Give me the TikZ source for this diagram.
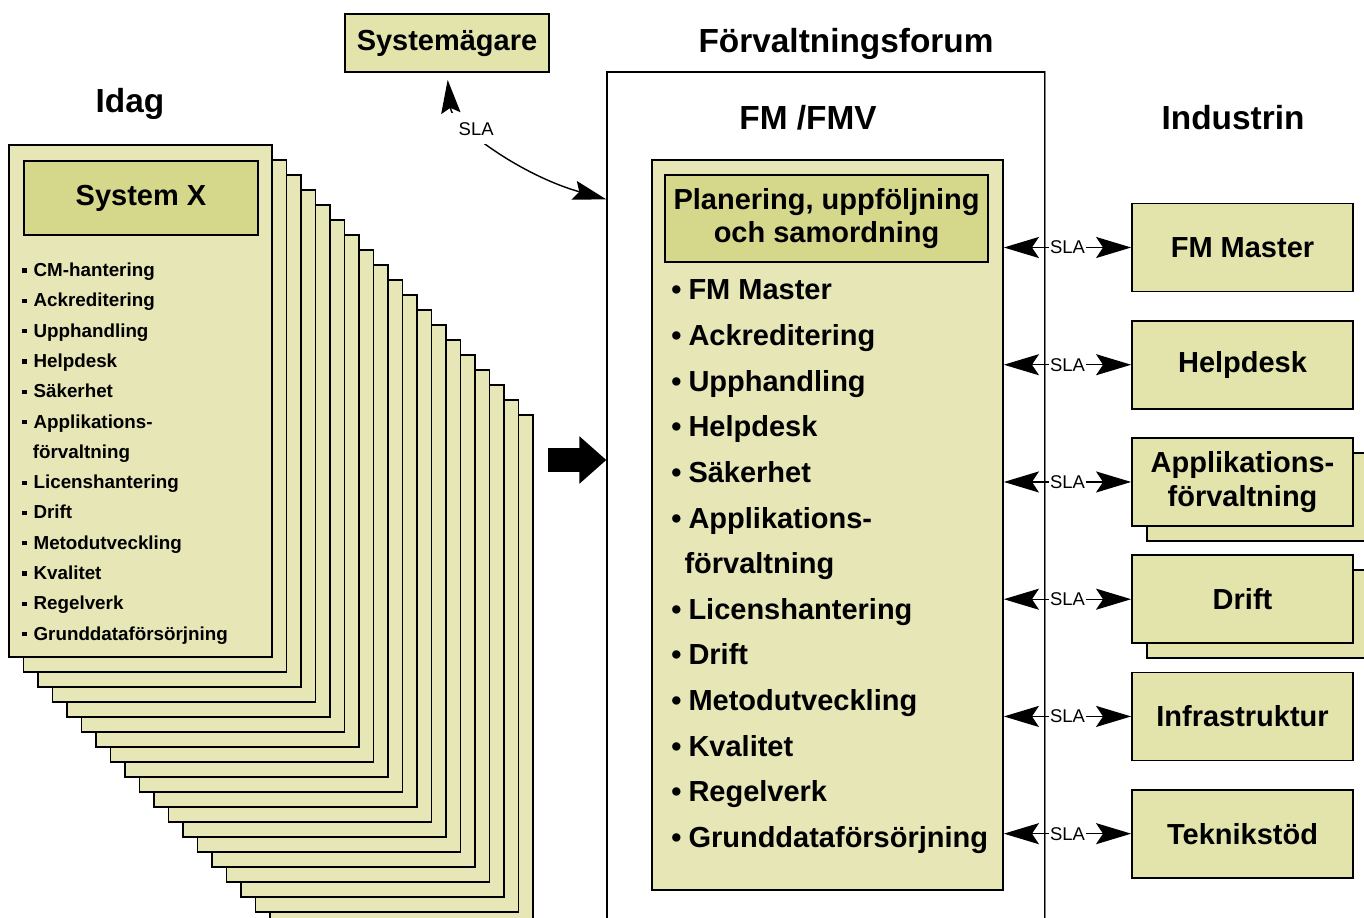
\documentclass[tikz,border=0pt]{standalone}
\usepackage{fontspec}
\setmainfont{Liberation Sans}
\usetikzlibrary{arrows.meta}
\usetikzlibrary{positioning}
\usetikzlibrary{calc}
\usetikzlibrary{shadows}
\definecolor{PageYellow}{HTML}{E6E6B6}
\definecolor{HeadYellow}{HTML}{D5D78B}
\definecolor{BoxYellow}{HTML}{E3E4AC}

\newcommand{\titlefont}{\bfseries\fontsize{19pt}{22pt}\selectfont}
\newcommand{\boxfont}{\bfseries\fontsize{16.5pt}{19pt}\selectfont}
\newcommand{\pagefont}{\bfseries\fontsize{10.7pt}{13pt}\selectfont}
\newcommand{\slafont}{\fontsize{10.5pt}{12pt}\selectfont}
\newcommand{\sqbullet}{\rule[2.2pt]{2.4pt}{2.4pt}\hspace{4pt}}
\newcommand{\rdbullet}{•\hspace{4pt}}

\begin{document}
\begin{tikzpicture}[x=0.02cm, y=-0.02cm,
    stackpage/.style={fill=PageYellow, draw=black, line width=1pt},
    headbox/.style={fill=HeadYellow, draw=black, line width=1pt, inner sep=0pt, font=\boxfont, align=center},
    rbox/.style={fill=BoxYellow, draw=black, line width=1pt, minimum width=4.42cm, minimum height=1.76cm, inner sep=0pt, font=\boxfont, align=center},
    sla/.style={{Stealth[length=20pt,width=12pt,inset=4pt]}-{Stealth[length=20pt,width=12pt,inset=4pt]}, line width=0.7pt},
    slalabel/.style={fill=white, inner sep=0.5pt, font=\slafont},
    bigarrow/.style={line width=14.2pt, -{Triangle[length=15.3pt,width=26pt]}}]
    \useasboundingbox (0,0) rectangle (1364,918);
    \clip (0,0) rectangle (1364,918);

    \node[font=\titlefont] (idag) at (130,104) {Idag};
    \node[font=\titlefont] (forumtitle) at (846,44) {Förvaltningsforum};
    \node[font=\titlefont] (fmvtitle) at (808,118) {FM /FMV};
    \node[font=\titlefont] (industrin) at (1233,118) {Industrin};

    \foreach \i in {18,17,...,1}
        \draw[stackpage] (9+14.5*\i, 145+15*\i) rectangle (272+14.5*\i, 657+15*\i);
    \node[stackpage, minimum width=5.26cm, minimum height=10.24cm, inner sep=0pt] (frontpage) at (140.5,401) {};
    \node[headbox, minimum width=4.68cm, minimum height=1.48cm] (sysx) at (141,198) {System X};
    \foreach \t [count=\i from 0] in {\sqbullet CM-hantering, \sqbullet Ackreditering, \sqbullet Upphandling,
        \sqbullet Helpdesk, \sqbullet Säkerhet, \sqbullet Applikations-, \hspace{6pt}förvaltning,
        \sqbullet Licenshantering, \sqbullet Drift, \sqbullet Metodutveckling, \sqbullet Kvalitet,
        \sqbullet Regelverk, \sqbullet Grunddataförsörjning}
        \node[anchor=base west, inner sep=0pt, font=\pagefont] (sysxitem\i) at (22, 276.5+30.3*\i) {\t};

    \node[fill=BoxYellow, draw=black, line width=1pt, minimum width=4.08cm, minimum height=1.16cm, inner sep=0pt, font=\boxfont] (sysagare) at (447,43) {Systemägare};

    \node[draw=black, line width=0.8pt, minimum width=8.76cm, minimum height=17.36cm, inner sep=0pt] (forum) at (826,506) {};
    \draw[gray, line width=0.8pt] (forum.north east) -- (forum.south east);
    \node[stackpage, minimum width=7.02cm, minimum height=14.6cm, inner sep=0pt] (fmv) at (827.5,525) {};
    \node[headbox, minimum width=6.46cm, minimum height=1.74cm] (planering) at (826.5,218.5) {Planering, uppföljning\\och samordning};
    \foreach \t [count=\i from 0] in {\rdbullet FM Master, \rdbullet Ackreditering, \rdbullet Upphandling,
        \rdbullet Helpdesk, \rdbullet Säkerhet, \rdbullet Applikations-, \hspace{7.5pt}förvaltning,
        \rdbullet Licenshantering, \rdbullet Drift, \rdbullet Metodutveckling, \rdbullet Kvalitet,
        \rdbullet Regelverk, \rdbullet Grunddataförsörjning}
        \node[anchor=base west, inner sep=0pt, font=\boxfont] (fmvitem\i) at (671, 300+45.6*\i) {\t};

    \node[rbox] (fmmaster) at (1242.5,247.5) {FM Master};
    \node[rbox, below=0.55cm of fmmaster] (helpdesk) {Helpdesk};
    \node[rbox, below=0.55cm of helpdesk, copy shadow={shadow xshift=8.5pt, shadow yshift=-8.5pt}] (applik) {Applikations-\\förvaltning};
    \node[rbox, below=0.55cm of applik, copy shadow={shadow xshift=8.5pt, shadow yshift=-8.5pt}] (drift) {Drift};
    \node[rbox, below=0.55cm of drift] (infra) {Infrastruktur};
    \node[rbox, below=0.55cm of infra] (teknik) {Teknikstöd};

    \foreach \b in {fmmaster,helpdesk,applik,drift,infra,teknik}
        \draw[sla] (fmv.east |- \b) -- node[slalabel] {SLA} (\b.west);

    \coordinate (slain) at ($(forum.north west)+(0,128)$);
    \draw[{Stealth[length=19pt,width=11pt,inset=3pt]}-{Stealth[length=19pt,width=11pt,inset=3pt]}, line width=0.8pt, shorten <=4pt]
        (sysagare.south) .. controls (452,125) and (520,175) .. (slain) node[pos=0.37, slalabel, inner sep=5pt] {SLA};

    \coordinate (stackout) at (548,460);
    \draw[bigarrow] (stackout) -- (forum.west |- stackout);
\end{tikzpicture}
\end{document}
